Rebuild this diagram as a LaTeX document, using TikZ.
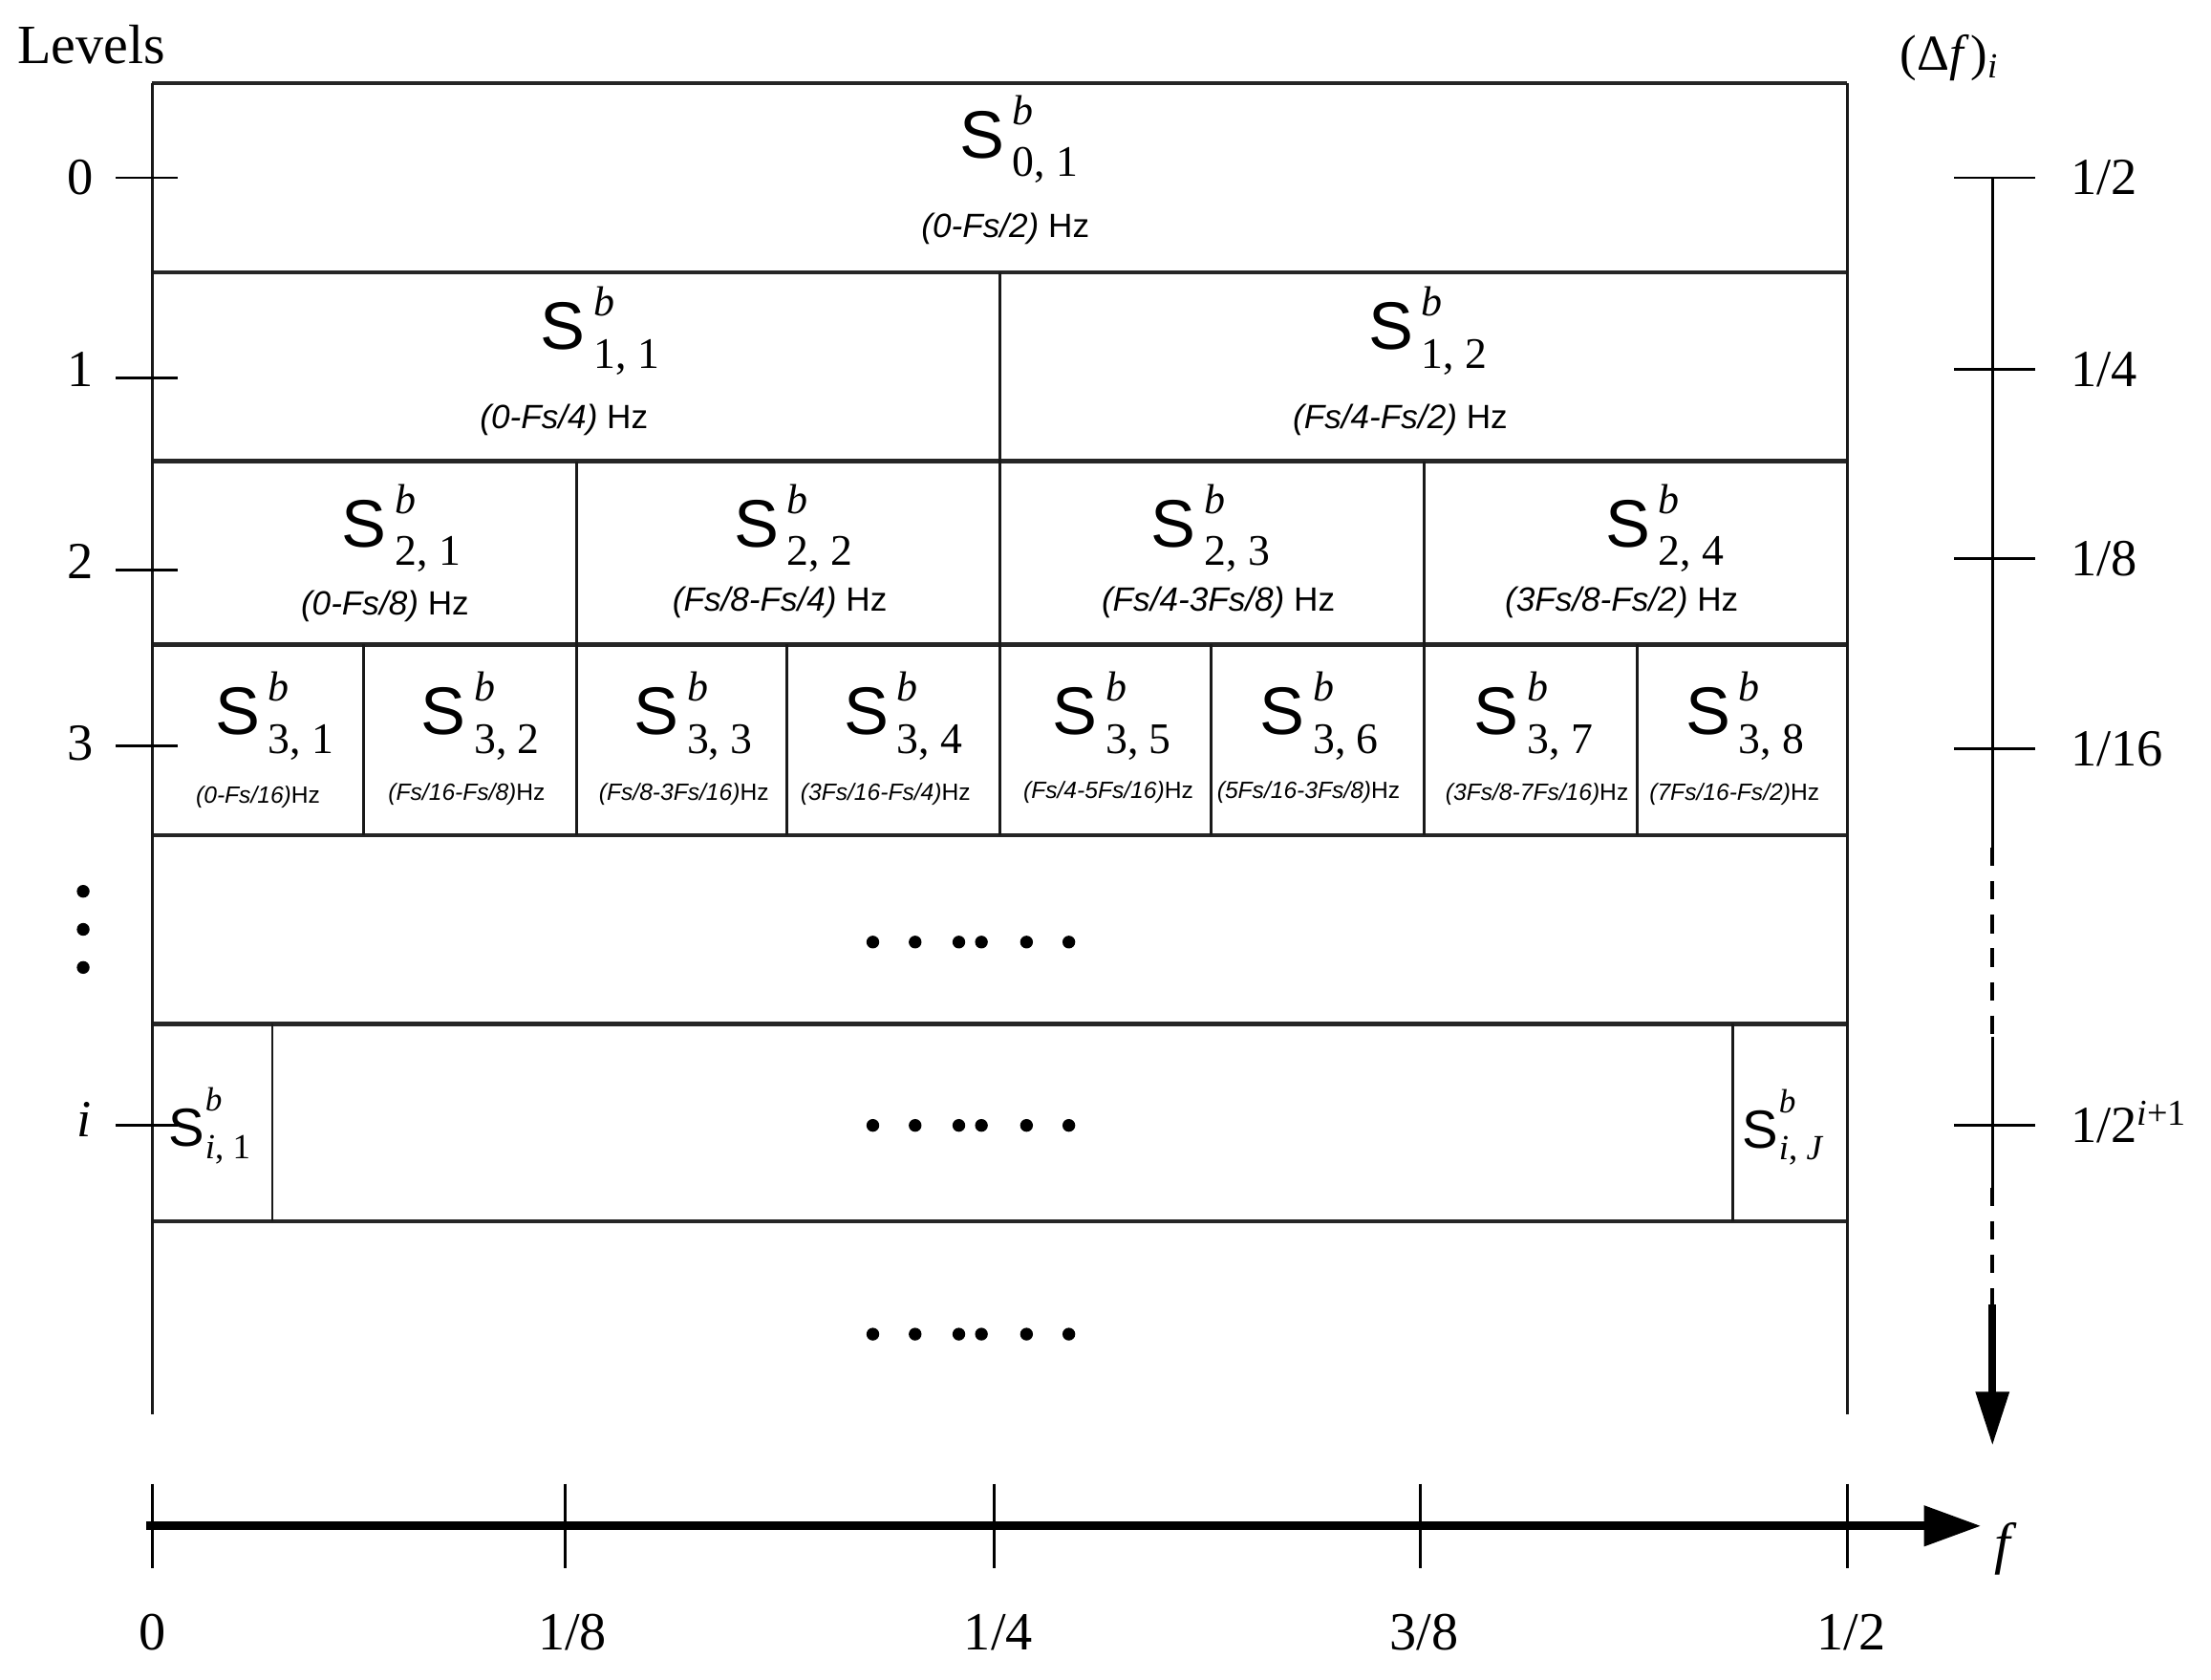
\documentclass[tikz,border=0pt]{standalone}
\usepackage{fontspec}
\setmainfont{Liberation Serif}
\newfontfamily\arialf{Liberation Sans}
\usetikzlibrary{arrows.meta}
\newcommand\Sbig[1]{{\arialf\fontsize{20}{20}\selectfont S}\kern2.5pt\rlap{\raisebox{10pt}{\fontsize{12.5}{12.5}\selectfont\itshape b}}\raisebox{-5.5pt}{\fontsize{13}{13}\selectfont #1}}
\newcommand\Ssmall[1]{{\arialf\fontsize{16}{16}\selectfont S}\kern0.3pt\rlap{\raisebox{10.5pt}{\fontsize{10}{10}\selectfont\itshape b}}\raisebox{-3.5pt}{\fontsize{10.5}{10.5}\selectfont #1}}
\newcommand\fqA[2]{{\arialf\fontsize{10}{10}\selectfont\itshape #1\upshape\ #2}}
\newcommand\fqB[1]{{\arialf\fontsize{7}{7}\selectfont\itshape #1\upshape Hz}}
\begin{document}
\begin{tikzpicture}[x=0.014758cm,y=-0.014758cm,
  hl/.style={line width=1.2pt, black!85},
  vl/.style={line width=0.75pt, black!90},
  tk/.style={line width=0.8pt},
  lab/.style={inner sep=0pt, font=\fontsize{15.5}{15.5}\selectfont},
  sn/.style={inner sep=0pt, anchor=base west},
  fqs/.style={inner sep=0pt},
  dotm/.style={fill=black}]
\useasboundingbox (0,0) rectangle (1568,1191);

% ---------- box rows ----------
\foreach \yy in {59,193,327,457,592,726,866}
  \draw[hl] (108,\yy) -- (1310,\yy);
\draw[vl] (108,59) -- (108,1003);
\draw[vl] (1310,59) -- (1310,1003);
\draw[vl] (709,193) -- (709,327);
\foreach \xx in {409,709,1010} \draw[vl] (\xx,327) -- (\xx,457);
\foreach \xx in {258,409,558,709,859,1010,1161} \draw[vl] (\xx,457) -- (\xx,592);
\foreach \xx in {193,1229} \draw[vl] (\xx,726) -- (\xx,866);

% ---------- titles ----------
\node[inner sep=0pt, anchor=base west, font=\fontsize{16.5}{16.5}\selectfont] (lvT) at (12,45) {Levels};
\node[inner sep=0pt, anchor=base west, font=\fontsize{15}{15}\selectfont] (dfT) at (1347,50) {(Δ\textit{f}\kern0.5pt)\textsubscript{\textit{i}}};

% ---------- left level axis ----------
\foreach \yy in {126,268,404,529,798} \draw[tk] (82,\yy) -- (126,\yy);
\node[lab, anchor=base] (l0) at (57,138) {0};
\node[lab, anchor=base] (l1) at (57,274) {1};
\node[lab, anchor=base] (l2) at (57,410) {2};
\node[lab, anchor=base] (l3) at (57,539) {3};
\node[lab, anchor=base] (li) at (60,806) {\textit{i}};
\foreach \yy in {632,659,686} \fill[dotm] (59,\yy) circle (1.9pt);

% ---------- right delta-f axis ----------
\coordinate (ra0) at (1413,126);
\coordinate (ra1) at (1413,601);
\coordinate (ra2) at (1413,735);
\coordinate (ra3) at (1413,842);
\coordinate (ra4) at (1413,925);
\coordinate (ra5) at (1413,1025);
\draw[line width=0.8pt] (ra0) -- (ra1);
\draw[line width=1.1pt, dash pattern=on 5.5pt off 4.5pt] (ra1) -- (ra2);
\draw[line width=0.8pt] (ra2) -- (ra3);
\draw[line width=1.1pt, dash pattern=on 5.5pt off 4.5pt] (ra3) -- (ra4);
\draw[line width=2.3pt, -{Triangle[length=16pt,width=9.5pt]}] (ra4) -- (ra5);
\foreach \yy in {126,262,396,531,798} \draw[tk] (1386,\yy) -- (1443,\yy);
\node[lab, anchor=base west] (r0) at (1468,138) {1/2};
\node[lab, anchor=base west] (r1) at (1468,274) {1/4};
\node[lab, anchor=base west] (r2) at (1468,408) {1/8};
\node[lab, anchor=base west] (r3) at (1468,543) {1/16};
\node[lab, anchor=base west] (r4) at (1468,810) {1/2\textsuperscript{\itshape i\upshape +1}};

% ---------- bottom frequency axis ----------
\coordinate (fa0) at (104,1082);
\coordinate (fa1) at (1405,1082);
\foreach \xx in {108,401,705,1007,1310} \draw[tk] (\xx,1052) -- (\xx,1112);
\draw[line width=2.6pt, -{Triangle[length=17pt,width=11.5pt]}] (fa0) -- (fa1);
\node[lab, anchor=base, font=\fontsize{16}{16}\selectfont] (b0) at (108,1170) {0};
\node[lab, anchor=base, font=\fontsize{16}{16}\selectfont] (b1) at (406,1170) {1/8};
\node[lab, anchor=base, font=\fontsize{16}{16}\selectfont] (b2) at (708,1170) {1/4};
\node[lab, anchor=base, font=\fontsize{16}{16}\selectfont] (b3) at (1010,1170) {3/8};
\node[lab, anchor=base, font=\fontsize{16}{16}\selectfont] (b4) at (1313,1170) {1/2};
\node[inner sep=0pt, font=\fontsize{17}{17}\selectfont\itshape] (fT) at (1420,1098) {f};

% ---------- level 0 ----------
\node[sn] (S01) at (680,112) {\Sbig{0, 1}};
\node[fqs] (F01) at (713,162) {\fqA{(0-Fs/2)}{Hz}};
% ---------- level 1 ----------
\node[sn] (S11) at (383,248) {\Sbig{1, 1}};
\node[sn] (S12) at (970,248) {\Sbig{1, 2}};
\node[fqs] (F11) at (400,298) {\fqA{(0-Fs/4)}{Hz}};
\node[fqs] (F12) at (993,298) {\fqA{(Fs/4-Fs/2)}{Hz}};
% ---------- level 2 ----------
\node[sn] (S21) at (242,388) {\Sbig{2, 1}};
\node[sn] (S22) at (520,388) {\Sbig{2, 2}};
\node[sn] (S23) at (816,388) {\Sbig{2, 3}};
\node[sn] (S24) at (1138,388) {\Sbig{2, 4}};
\node[fqs] (F21) at (273,430) {\fqA{(0-Fs/8)}{Hz}};
\node[fqs] (F22) at (553,427) {\fqA{(Fs/8-Fs/4)}{Hz}};
\node[fqs] (F23) at (864,427) {\fqA{(Fs/4-3Fs/8)}{Hz}};
\node[fqs] (F24) at (1150,427) {\fqA{(3Fs/8-Fs/2)}{Hz}};
% ---------- level 3 ----------
\node[sn] (S31) at (152,521) {\Sbig{3, 1}};
\node[sn] (S32) at (298,521) {\Sbig{3, 2}};
\node[sn] (S33) at (449,521) {\Sbig{3, 3}};
\node[sn] (S34) at (598,521) {\Sbig{3, 4}};
\node[sn] (S35) at (746,521) {\Sbig{3, 5}};
\node[sn] (S36) at (893,521) {\Sbig{3, 6}};
\node[sn] (S37) at (1045,521) {\Sbig{3, 7}};
\node[sn] (S38) at (1195,521) {\Sbig{3, 8}};
\node[fqs] (F31) at (183,565) {\fqB{(0-Fs/16)}};
\node[fqs] (F32) at (331,563) {\fqB{(Fs/16-Fs/8)}};
\node[fqs] (F33) at (485,563) {\fqB{(Fs/8-3Fs/16)}};
\node[fqs] (F34) at (628,563) {\fqB{(3Fs/16-Fs/4)}};
\node[fqs] (F35) at (786,562) {\fqB{(Fs/4-5Fs/16)}};
\node[fqs] (F36) at (928,562) {\fqB{(5Fs/16-3Fs/8)}};
\node[fqs] (F37) at (1090,563) {\fqB{(3Fs/8-7Fs/16)}};
\node[fqs] (F38) at (1230,563) {\fqB{(7Fs/16-Fs/2)}};
% ---------- level i ----------
\node[sn] (Si1) at (119,813) {\Ssmall{\textit{i}, 1}};
\node[sn] (SiJ) at (1235,814) {\Ssmall{\textit{i}, \textit{J}}};

% ---------- ellipsis dots ----------
\foreach \yy in {668,798,946}
  \foreach \xx in {619,649,680,696,728,758}
    \fill[dotm] (\xx,\yy) circle (1.9pt);
\end{tikzpicture}
\end{document}
